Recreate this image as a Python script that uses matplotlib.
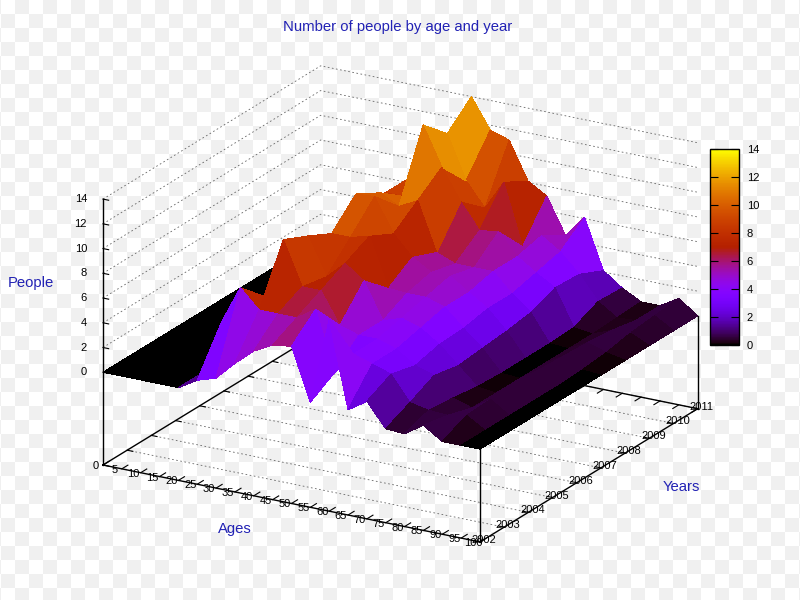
import numpy as np
import matplotlib
matplotlib.use("Agg")
import matplotlib.pyplot as plt
from mpl_toolkits.mplot3d import proj3d

# Data
ages = list(range(0, 105, 5))
years = [2002, 2003, 2004, 2005, 2006, 2007, 2008, 2009, 2010, 2011]
z_ticks = [0, 2, 4, 6, 8, 10, 12, 14]

# one list per age, values for 2002..2011
people_0 = [0, 0, 0, 0, 0, 0, 0, 0, 0, 0]
people_5 = [0, 0, 0, 0, 0, 0, 0, 0, 0, 0]
people_10 = [0, 0, 0, 0, 0, 0, 0, 0, 0, 0]
people_15 = [0, 0, 0, 0, 0, 0, 0, 0, 0, 0]
people_20 = [0, 0, 0, 0, 0, 0, 0, 0, 0, 0]
people_25 = [0.9, 4.4, 2, 1, 1, 1, 1, 1, 1, 1]
people_30 = [1.4, 7.5, 5.6, 5, 6, 7, 8, 8, 8, 8]
people_35 = [2.9, 6, 10.5, 9.6, 8.6, 10.6, 9.5, 8, 11, 10]
people_40 = [4.2, 6, 7, 6.6, 8.6, 10.7, 8.7, 14.1, 12.2, 14]
people_45 = [5, 6, 7, 8, 9, 8, 9.5, 11, 8.7, 11.6]
people_50 = [5.2, 7, 4.5, 6.9, 5.1, 6.4, 5.6, 8.5, 6.8, 11.1]
people_55 = [1, 2.2, 4, 4, 5, 5.5, 5, 6.5, 9.2, 8.1]
people_60 = [8, 4, 4, 4.5, 5, 5.5, 5, 6.7, 4.3, 7.2]
people_65 = [1, 3.5, 3.5, 4, 4.5, 4.5, 5, 5, 5.5, 4.3]
people_70 = [2, 3, 2.5, 3, 3.1, 3.5, 3.5, 4, 4.5, 6.1]
people_75 = [0.1, 1, 2, 1.6, 1.8, 2, 2.3, 3.1, 3, 2.1]
people_80 = [0, 0.7, 0.5, 0.2, 0.1, 0.1, 0.1, 0.2, 1.1, 1]
people_85 = [1, 0.6, 0, 0, 0, 0, 0, 0, 0.1, 0.2]
people_90 = [0, 0.9, 1, 1, 1, 0.9, 0.8, 0.6, 0.2, 0.2]
people_95 = [0, 0, 0, 0, 0, 0.1, 0.3, 0.7, 0.9, 1.1]
people_100 = [0, 0, 0, 0, 0, 0, 0, 0, 0, 0]

Z = np.array([people_0, people_5, people_10, people_15, people_20, people_25, people_30,
              people_35, people_40, people_45, people_50, people_55, people_60, people_65,
              people_70, people_75, people_80, people_85, people_90, people_95, people_100])
X, Y = np.meshgrid(ages, years, indexing="ij")

plt.rcParams["font.family"] = ["Liberation Sans", "DejaVu Sans"]
BLUE = "#2222b4"
GRIDC = "#666666"
ZFLOOR = -7.5

fig = plt.figure(figsize=(8, 6), dpi=100, facecolor="white")

# checkered backdrop of the picture
yy, xx = np.mgrid[0:600, 0:800]
check = np.where(((xx + 13) // 14 + yy // 14) % 2, 1.0, 0.94)
fig.figimage(check, cmap="gray", vmin=0, vmax=1, origin="upper", zorder=-5)

ax = fig.add_axes([0, 0, 0.75, 1], projection="3d", proj_type="ortho", computed_zorder=False)
ax.patch.set_visible(False)
ax.set_axis_off()
ax.view_init(elev=20.7, azim=-60)
ax.set_box_aspect((1, 1, 0.653))
ax.set_xlim(0, 100, view_margin=0)
ax.set_ylim(2002, 2011, view_margin=0)
ax.set_zlim(ZFLOOR, 14, view_margin=0)


def to_px(x, y, z):
    px, py, _ = proj3d.proj_transform(x, y, z, ax.get_proj())
    return ax.transData.transform((px, py))


# place the axes so the floor corners land where they are in the picture
a = to_px(0, 2002, ZFLOOR)
b = to_px(100, 2002, ZFLOOR)
s = (480 - 103) / (b[0] - a[0])
pos = ax.get_position()
w = pos.width * 800 * s
ax.set_position([0, 0, w / 800, w / 600])
a = to_px(0, 2002, ZFLOOR)
ax.set_position([(103 - a[0]) / 800, (600 - 465 - a[1]) / 600, w / 800, w / 600])

# floor and back walls
for yr in years[1:]:
    ax.plot([0, 100], [yr, yr], [ZFLOOR, ZFLOOR], color=GRIDC, lw=0.6, ls=(0, (2, 3)), zorder=1)
for zt in z_ticks:
    ax.plot([0, 0, 100], [2002, 2011, 2011], [zt, zt, zt], color=GRIDC, lw=0.6, ls=(0, (2, 3)), zorder=1)

# box
ax.plot([0, 100, 100, 0, 0], [2002, 2002, 2011, 2011, 2002], [ZFLOOR] * 5, color="black", lw=1, zorder=2)
ax.plot([0, 0], [2002, 2002], [ZFLOOR, 14], color="black", lw=1, zorder=2)
ax.plot([100, 100], [2002, 2002], [ZFLOOR, 0], color="black", lw=1, zorder=2)
ax.plot([100, 100], [2011, 2011], [ZFLOOR, 0], color="black", lw=1, zorder=2)

# ticks
for ag in ages:
    ax.plot([ag, ag], [2002, 2002.25], [ZFLOOR, ZFLOOR], color="black", lw=0.8, zorder=2)
    ax.plot([ag, ag], [2011, 2010.75], [ZFLOOR, ZFLOOR], color="black", lw=0.8, zorder=2)
for yr in years:
    ax.plot([0, 1.5], [yr, yr], [ZFLOOR, ZFLOOR], color="black", lw=0.8, zorder=2)
    ax.plot([100, 98.5], [yr, yr], [ZFLOOR, ZFLOOR], color="black", lw=0.8, zorder=2)
for zt in z_ticks:
    ax.plot([0, 1.5], [2002, 2002], [zt, zt], color="black", lw=0.8, zorder=2)

surf = ax.plot_surface(X, Y, Z, cmap="gnuplot", vmin=0, vmax=14, rstride=1, cstride=1,
                       linewidth=0, antialiased=False, shade=False, zorder=3)


def label(text, x, y, z, dx, dy, ha="center"):
    xy = proj3d.proj_transform(x, y, z, ax.get_proj())[:2]
    ax.annotate(text, xy=xy, xytext=(dx, dy), textcoords="offset pixels", ha=ha, va="center",
                fontsize=8, color="black", annotation_clip=False, zorder=5)


for ag in ages:
    label(str(ag), ag, 2002, ZFLOOR, -7, -1)
for yr in years:
    label(str(yr), 100, yr, ZFLOOR, 4, 2)
for zt in z_ticks:
    label(str(zt), 0, 2002, zt, -16, 0, ha="right")

# colour box
cax = fig.add_axes([709.5 / 800, 1 - 345 / 600, 29 / 800, 196 / 600])
cb = fig.colorbar(surf, cax=cax, ticks=z_ticks)
cb.outline.set_linewidth(1)
cax.tick_params(direction="in", left=True, right=True, length=6, width=0.8, labelsize=8, pad=6)

# titles
fig.text(398 / 800, 1 - 26.5 / 600, "Number of people by age and year", color=BLUE, fontsize=10.7, ha="center", va="center")
fig.text(31 / 800, 1 - 283 / 600, "People", color=BLUE, fontsize=10.7, ha="center", va="center")
fig.text(235 / 800, 1 - 529 / 600, "Ages", color=BLUE, fontsize=10.7, ha="center", va="center")
fig.text(681 / 800, 1 - 487 / 600, "Years", color=BLUE, fontsize=10.7, ha="center", va="center")

fig.savefig("out.png", dpi=100)
